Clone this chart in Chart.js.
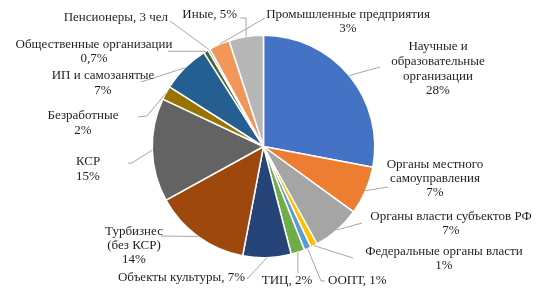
<!DOCTYPE html>
<html><head><meta charset="utf-8">
<script src="https://cdn.jsdelivr.net/npm/chart.js@4"></script>
<style>html,body{margin:0;padding:0;background:#fff;}#wrap{width:540px;height:297px;}</style>
</head><body><div id="wrap"><canvas id="c" width="540" height="297"></canvas></div>
<script>
const categories = ['Научные и образовательные организации','Органы местного самоуправления','Органы власти субъектов РФ','Федеральные органы власти','ООПТ','ТИЦ','Объекты культуры','Турбизнес (без КСР)','КСР','Безработные','ИП и самозанятые','Общественные организации','Пенсионеры','Промышленные предприятия','Иные'];
const values = [28,7,7,1,1,2,7,14,15,2,7,0.7,0.3,3,5];
const valueLabels = ['28%','7%','7%','1%','1%','2%','7%','14%','15%','2%','7%','0,7%','3 чел','3%','5%'];
const labelLines = [
  ['Научные и','образовательные','организации','28%'],
  ['Органы местного','самоуправления','7%'],
  ['Органы власти субъектов РФ','7%'],
  ['Федеральные органы власти','1%'],
  ['ООПТ, 1%'],
  ['ТИЦ, 2%'],
  ['Объекты культуры, 7%'],
  ['Турбизнес','(без КСР)','14%'],
  ['КСР','15%'],
  ['Безработные','2%'],
  ['ИП и самозанятые','7%'],
  ['Общественные организации','0,7%'],
  ['Пенсионеры, 3 чел'],
  ['Промышленные предприятия','3%'],
  ['Иные, 5%']
];
const colors = ['#4472C4','#ED7D31','#A5A5A5','#FFC000','#5B9BD5','#70AD47','#264478','#9E480E','#636363','#997300','#255E91','#43682B','#698ED0','#F1975A','#B7B7B7'];

// layout of outside labels: text anchor, alignment, line y centres, leader elbow points
const labelLayout = [
  {x:438, align:'center', ys:[47,62,77,91], pts:[[380,67]]},
  {x:435, align:'center', ys:[165,179,193], pts:[[388,187]]},
  {x:451, align:'center', ys:[217,231], pts:[[362,223]]},
  {x:444, align:'center', ys:[252,266], pts:[[353,258]]},
  {x:328, align:'left', ys:[281], pts:[[321,281],[325,281]]},
  {x:287, align:'center', ys:[281], pts:[[299,273]], rx:true},
  {x:245, align:'right', ys:[278], pts:[[247,279]]},
  {x:134, align:'center', ys:[232,246,260], pts:[[161,236]]},
  {x:88, align:'center', ys:[162,177], pts:[[132,163],[128,163]]},
  {x:83, align:'center', ys:[116,131], pts:[[147,116],[138,117]]},
  {x:103, align:'center', ys:[76,91], pts:[[141,82]]},
  {x:94, align:'center', ys:[45,59], pts:[[168,49]], flat:true},
  {x:168, align:'right', ys:[18], pts:[[170,21]]},
  {x:348, align:'center', ys:[15,29], pts:[[265,18]]},
  {x:237, align:'right', ys:[15], pts:[[246,18],[240,18]], vert:true}
];

const labelPlugin = {
  id:'outLabels',
  afterDatasetsDraw(chart){
    const ctx = chart.ctx;
    const meta = chart.getDatasetMeta(0);
    ctx.save();
    meta.data.forEach((arc, i) => {
      const L = labelLayout[i];
      const mid = (arc.startAngle + arc.endAngle)/2;
      let sx = arc.x + arc.outerRadius*Math.cos(mid);
      let sy = arc.y + arc.outerRadius*Math.sin(mid);
      ctx.strokeStyle = '#A6A6A6';
      ctx.lineWidth = 1;
      ctx.beginPath();
      ctx.moveTo(sx, sy);
      L.pts.forEach((p, k) => {
        let px = p[0], py = p[1];
        if (k === 0 && L.vert) px = sx;
        if (k === 0 && L.rx) px = sx;
        if (L.flat) py = sy;
        ctx.lineTo(px, py);
      });
      ctx.stroke();
      ctx.fillStyle = '#1f1f1f';
      ctx.font = '13px "Liberation Serif", "Times New Roman", serif';
      ctx.textBaseline = 'middle';
      ctx.textAlign = L.align;
      labelLines[i].forEach((t, k) => ctx.fillText(t, L.x, L.ys[k]));
    });
    ctx.restore();
  }
};

new Chart(document.getElementById('c'), {
  type:'pie',
  data:{labels:categories, datasets:[{data:values, backgroundColor:colors, borderColor:'#ffffff', borderWidth:1.5}]},
  options:{
    responsive:false, animation:false,
    layout:{padding:{left:151.5, right:164.5, top:34.5, bottom:38.5}},
    plugins:{legend:{display:false}, tooltip:{enabled:false}}
  },
  plugins:[labelPlugin]
});
</script></body></html>
